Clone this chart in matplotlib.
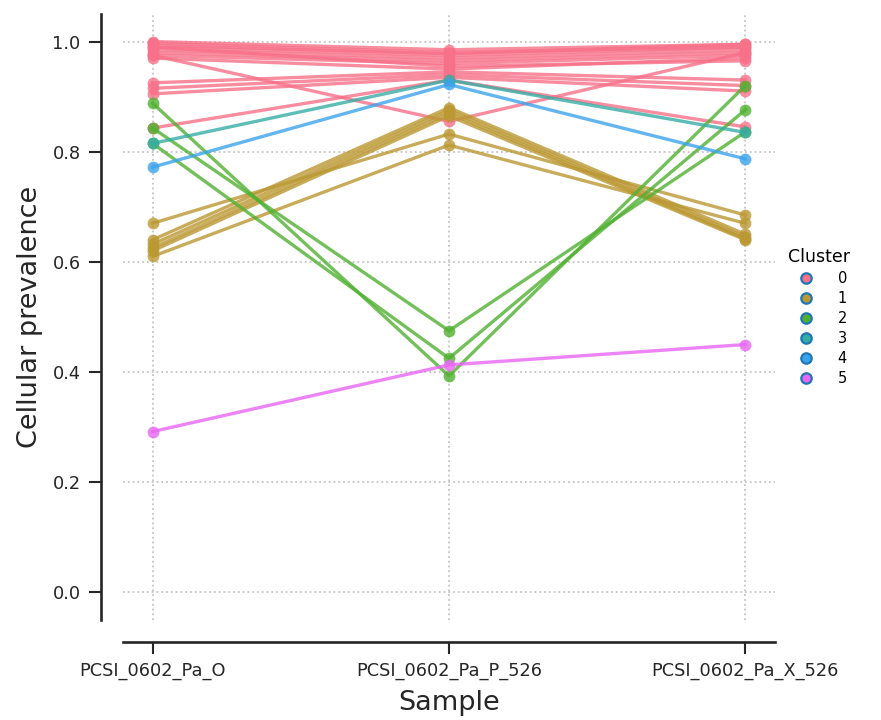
import matplotlib
matplotlib.use("Agg")
import matplotlib.pyplot as plt
import seaborn as sns
from matplotlib.lines import Line2D

samples = ["PCSI_0602_Pa_O", "PCSI_0602_Pa_P_526", "PCSI_0602_Pa_X_526"]

# cellular prevalence per mutation, one row per mutation: (O, P, X)
cluster0 = [
    [1.000, 0.985, 0.995],
    [0.997, 0.980, 0.990],
    [0.993, 0.978, 0.995],
    [0.990, 0.975, 0.990],
    [0.985, 0.970, 0.985],
    [0.980, 0.965, 0.980],
    [0.975, 0.960, 0.975],
    [0.970, 0.950, 0.970],
    [0.975, 0.855, 0.980],
    [0.925, 0.945, 0.930],
    [0.915, 0.940, 0.920],
    [0.905, 0.935, 0.910],
    [0.843, 0.930, 0.845],
    [0.990, 0.955, 0.965],
]
cluster1 = [
    [0.670, 0.832, 0.685],
    [0.640, 0.880, 0.650],
    [0.632, 0.875, 0.645],
    [0.625, 0.870, 0.642],
    [0.620, 0.865, 0.640],
    [0.610, 0.812, 0.670],
]
cluster2 = [
    [0.888, 0.393, 0.920],
    [0.843, 0.475, 0.836],
    [0.815, 0.425, 0.876],
]
cluster3 = [[0.815, 0.930, 0.835]]
cluster4 = [[0.772, 0.922, 0.787]]
cluster5 = [[0.292, 0.413, 0.450]]

clusters = [cluster0, cluster1, cluster2, cluster3, cluster4, cluster5]
cluster_names = ["0", "1", "2", "3", "4", "5"]

colors = sns.color_palette("husl", len(clusters))

fig = plt.figure(figsize=(8.81, 7.2), dpi=100)
ax = fig.add_axes([0.1396, 0.1389, 0.7401, 0.8417])

xs = list(range(len(samples)))
for rows, c in zip(clusters, colors):
    for r in rows:
        ax.plot(xs, r, color=c, alpha=0.8, lw=2.4, marker="o", ms=8.5,
                markeredgewidth=0)

ax.set_xlim(-0.1, 2.1)
ax.set_ylim(-0.05, 1.05)
ax.set_xticks(xs)
ax.set_xticklabels(samples)
ax.set_yticks([0.0, 0.2, 0.4, 0.6, 0.8, 1.0])
ax.set_yticklabels(["0.0", "0.2", "0.4", "0.6", "0.8", "1.0"])
ax.grid(True, linestyle=":", color="#c4c4c4", lw=1.3)
ax.set_axisbelow(True)

for s in ["top", "right"]:
    ax.spines[s].set_visible(False)
for s in ["left", "bottom"]:
    ax.spines[s].set_position(("outward", 16))
    ax.spines[s].set_linewidth(1.9)
    ax.spines[s].set_color("#262626")
ax.tick_params(direction="out", length=8.5, width=1.5, color="#262626",
               pad=6, labelsize=12.8, labelcolor="#262626")

ax.set_xlabel("Sample", fontsize=19.5, color="#262626", labelpad=7)
ax.set_ylabel("Cellular prevalence", fontsize=19.5, color="#262626",
              labelpad=7)

handles = [Line2D([], [], linestyle="", marker="o", markerfacecolor=c,
                  markeredgecolor="#1f77b4", markeredgewidth=1.6, ms=7.5)
           for c in colors]
leg = ax.legend(handles, cluster_names, title="Cluster", frameon=False,
                loc="center left", bbox_to_anchor=(1.0, 0.5), fontsize=10.5,
                title_fontsize=12.5, handletextpad=1.2, labelspacing=0.35)

fig.savefig("out.png", dpi=100)
